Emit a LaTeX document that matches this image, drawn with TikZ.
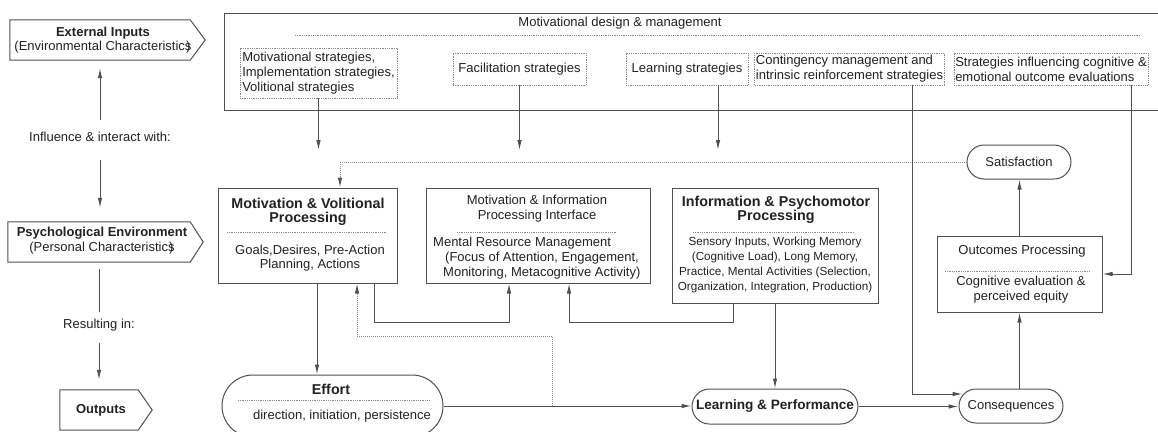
\documentclass[tikz,border=0pt]{standalone}
\usepackage{fontspec}
\setmainfont{Liberation Sans}
\usetikzlibrary{arrows.meta,shapes.misc}
\definecolor{lc}{HTML}{505050}
\definecolor{dc}{HTML}{8A8A8A}
\definecolor{tc}{HTML}{222222}
\begin{document}
\begin{tikzpicture}[x=1pt,y=-1pt,
  every node/.style={text=tc, inner sep=0pt, font=\fontsize{13}{15}\selectfont},
  ttl/.style={font=\fontsize{14.3}{14}\selectfont\bfseries},
  boxs/.style={draw=lc, line width=1pt, inner sep=0pt},
  sbox/.style={draw=dc, line width=0.9pt, dash pattern=on 1pt off 0.8pt, inner sep=2pt, align=left},
  pill/.style={draw=lc, line width=1pt, rounded rectangle},
  arr/.style={draw=lc, line width=1pt, -{Latex[length=10pt,width=4.5pt]}},
  darr/.style={draw=dc, line width=1pt, dash pattern=on 1pt off 1pt, -{Latex[length=10pt,width=4.5pt,color=lc]}},
  ln/.style={draw=lc, line width=1pt},
  sep/.style={draw=dc, line width=0.9pt, dash pattern=on 1pt off 0.8pt}]
\useasboundingbox (0,0) rectangle (1158,431);
\fill[white] (0,0) rectangle (1158,431);

% ---------- left column ----------
\node[minimum width=180pt, minimum height=40pt] (ext) at (100,40) {};
\draw[ln] (ext.north west) -- (ext.north east) -- ([xshift=15pt]ext.east) -- (ext.south east) -- (ext.south west) -- cycle;
\node[align=center, font=\fontsize{13}{14.5}\selectfont] (extT) at (103,40) {{\bfseries External Inputs}\\(Environmental Characteristic\rlap{\hspace{0.08em})}s};

\node[minimum width=182pt, minimum height=40pt] (psy) at (99,242) {};
\draw[ln] (psy.north west) -- (psy.north east) -- ([xshift=13pt]psy.east) -- (psy.south east) -- (psy.south west) -- cycle;
\node[align=center, font=\fontsize{13}{15}\selectfont] (psyT) at (102,240.5) {{\bfseries Psychological Environment}\\(Personal Characteristic\rlap{\hspace{0.08em})}s};

\node[minimum width=78pt, minimum height=40pt] (outp) at (99,410) {};
\draw[ln] (outp.north west) -- (outp.north east) -- ([xshift=14pt]outp.east) -- (outp.south east) -- (outp.south west) -- cycle;
\node[font=\fontsize{13}{15}\selectfont\bfseries] (outpT) at (101,410) {Outputs};

\node (infl) at (100,137) {Influence \& interact with:};
\node (res) at (99,325) {Resulting in:};

\draw[arr] ([yshift=17pt]infl.center) -- ([yshift=-8pt]infl.center |- ext.south);
\draw[arr] ([yshift=-23pt]infl.center) -- ([yshift=14pt]infl.center |- psy.north);
\draw[ln] ([yshift=-7pt]res.center |- psy.south) -- ([yshift=13pt]res.center);
\draw[arr] ([yshift=-18pt]res.center) -- ([yshift=10pt]res.center |- outp.north);

% ---------- top box ----------
\node[draw=lc, line width=1pt, minimum width=940pt, minimum height=97pt] (top) at (694,61.5) {};
\node (topT) at (620,23) {Motivational design \& management};
\draw[sep] (295,35) -- (1140,35);

\node[sbox, minimum width=157pt, minimum height=50pt] (b1) at (318.5,73) {Motivational strategies,\\Implementation strategies,\\Volitional strategies};
\node[sbox, minimum width=133pt, minimum height=32pt] (b2) at (519.5,69) {Facilitation strategies};
\node[sbox, minimum width=122pt, minimum height=32pt] (b3) at (687,69) {Learning strategies};
\node[sbox, minimum width=189pt, minimum height=32pt, inner sep=1pt] (b4) at (849.5,69) {Contingency management and\\intrinsic reinforcement strategies};
\node[sbox, minimum width=194pt, minimum height=32pt, inner sep=1pt] (b5) at (1051,69) {Strategies influencing cognitive \&\\emotional outcome evaluations};

% ---------- process boxes ----------
\node[boxs, minimum width=179pt, minimum height=95pt] (mot) at (307.5,235.5) {};
\node[boxs, minimum width=224pt, minimum height=95pt] (int) at (538,235.5) {};
\node[boxs, minimum width=206pt, minimum height=115pt] (info) at (775,245.5) {};
\node[boxs, minimum width=165pt, minimum height=76pt] (out) at (1019.5,274) {};
\node[pill, minimum width=104pt, minimum height=34pt] (sat) at (1019,162) {Satisfaction};
\node[pill, minimum width=104pt, minimum height=34pt] (cons) at (1011,406) {Consequences};
\node[pill, minimum width=166pt, minimum height=35pt, font=\fontsize{13.6}{15}\selectfont\bfseries] (lp) at (775,406.5) {Learning \& Performance};
\node[pill, minimum width=221pt, minimum height=62pt] (eff) at (332.5,406) {};

\node[ttl, align=center] (motT) at (308,212) {Motivation \& Volitional\\Processing};
\draw[sep] (227,232) -- (387,232);
\node[align=center, font=\fontsize{13}{14}\selectfont] (motB) at (310,258) {Goals,Desires, Pre-Action\\Planning, Actions};

\node[align=center] (intT) at (537,208.5) {Motivation \& Information\\Processing Interface};
\draw[sep] (457,232) -- (617,232);
\node[align=left, anchor=west] (intB) at (433,258) {Mental Resource Management\\\hspace*{12pt}(Focus of Attention, Engagement,\\\hspace*{10pt}Monitoring, Metacognitive Activity)};

\node[ttl, align=center] (infoT) at (776,210) {Information \& Psychomotor\\Processing};
\draw[sep] (693,232) -- (854,232);
\node[align=center, font=\fontsize{11.7}{15}\selectfont] (infoB) at (775,264.5) {Sensory Inputs, Working Memory\\(Cognitive Load), Long Memory,\\Practice, Mental Activities (Selection,\\Organization, Integration, Production)};

\node (outT) at (1022,251) {Outcomes Processing};
\draw[sep] (945,271) -- (1090,271);
\node[align=center] (outB) at (1021,289.5) {Cognitive evaluation \&\\perceived equity};

\node[font=\fontsize{14.3}{15}\selectfont\bfseries] (effT) at (331,389) {Effort};
\draw[sep] (238,400) -- (430,400);
\node (effB) at (342,416) {direction, initiation, persistence};

% ---------- connectors ----------
\coordinate (e1) at (318.5,150);
\coordinate (e2) at (519.5,150);
\coordinate (e3) at (718,150);
\draw[arr] (b1.south) -- (e1);
\draw[arr] (b2.south) -- (e2);
\draw[arr] ([xshift=31pt]b3.south) -- (e3);

\draw[darr] (sat.west) -| ([xshift=32.5pt]mot.north);

\draw[arr] ([xshift=9.5pt]mot.south) -- ([xshift=9.5pt]mot.south |- eff.north);
\draw[arr] ([xshift=66.5pt]mot.south) -- ++(0,39) -| ([xshift=-29pt]int.south);
\draw[arr] ([xshift=-42pt]info.south) -- ++(0,19) -| ([xshift=31pt]int.south);
\draw[arr] (info.south) -- (lp.north);
\draw[arr] (eff.east) -- (eff.east -| lp.west);
\coordinate (j) at (552,406);
\draw[darr] (j) -- ++(0,-70) -| ([xshift=49.5pt]mot.south);
\draw[arr] (lp.east) -- (lp.east -| cons.west);
\draw[arr] ([xshift=62.5pt]b4.south) |- ([xshift=4pt,yshift=12pt]cons.west);
\draw[arr] (cons.north -| out.south) -- (out.south);
\draw[arr] (out.north) -- (out.north |- sat.south);
\draw[arr] ([xshift=80pt]b5.south) |- (out.east);
\end{tikzpicture}
\end{document}
